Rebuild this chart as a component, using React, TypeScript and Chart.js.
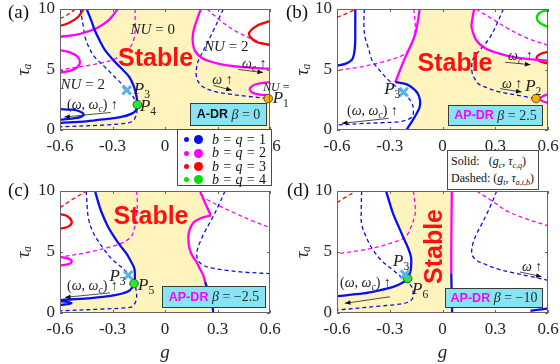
import React, { useEffect, useRef } from 'react';
import { Chart, registerables } from 'chart.js';
Chart.register(...registerables);

type Pt = [number, number];

const SERIF = '"Liberation Serif", "Times New Roman", serif';
const SANS = '"Liberation Sans", Arial, sans-serif';

const BLUE = '#0a10e8';
const MAG = '#ff00ff';
const RED = '#ff0000';
const GREEN = '#00e000';
const YELLOW = '#fff4bd';
const CROSS = '#55b4e6';
const ORANGE = '#f5ad00';
const DOTGREEN = '#22ee22';
const BOXFILL = '#86e4f5';

const gRange: Pt = [-0.6, 0.6];
const tauRange: Pt = [0, 10];
const xTickValues = [-0.6, -0.3, 0, 0.3, 0.6];
const xTickLabels = ['-0.6', '-0.3', '0', '0.3', '0.6'];
const yTickValues = [0, 5, 10];
const yTickLabels = ['0', '5', '10'];

// ---------- panel (a): A-DR, beta = 0 ----------
const aBlueSolid: Pt[] = [[-0.448,10],[-0.42,9.0],[-0.4,8.2],[-0.37,7.3],[-0.343,6.6],[-0.3,5.85],[-0.257,5.2],[-0.205,4.4],[-0.178,3.6],[-0.163,2.8],[-0.158,2.1],[-0.165,1.65],[-0.19,1.35],[-0.25,1.08],[-0.35,0.88],[-0.45,0.72],[-0.6,0.58]];
const aBlueLoop: Pt[] = [[-0.6,1.72],[-0.53,1.68],[-0.49,1.55],[-0.465,1.3],[-0.48,1.08],[-0.53,0.94],[-0.6,0.86]];
const aBlueDash: Pt[] = [[-0.484,10],[-0.465,8.4],[-0.457,7.65],[-0.43,6.7],[-0.4,6.0],[-0.35,5.3],[-0.305,4.65],[-0.26,4.0],[-0.229,3.55],[-0.19,2.9],[-0.17,2.4],[-0.162,1.8],[-0.162,1.37],[-0.175,0.9],[-0.2,0.62],[-0.26,0.5],[-0.343,0.41],[-0.6,0.27]];
const aBlueDashR: Pt[] = [[0.333,10],[0.276,8.2],[0.219,6.56],[0.19,5.7],[0.181,5.19],[0.178,4.6],[0.19,4.0],[0.219,3.55],[0.28,3.2],[0.352,3.0],[0.467,2.79],[0.59,2.6]];
const aMagSolidR: Pt[] = [[0.205,10],[0.18,9.0],[0.163,8.2],[0.158,7.4],[0.171,6.56],[0.219,5.88],[0.314,5.45],[0.447,5.2],[0.6,5.05]];
const aMagBumpL: Pt[] = [[-0.6,6.6],[-0.54,6.4],[-0.5,6.05],[-0.486,5.6],[-0.5,5.2],[-0.54,4.9],[-0.6,4.75]];
const aMagTopL: Pt[] = [[-0.6,7.7],[-0.52,7.85],[-0.45,8.1],[-0.38,8.5],[-0.32,9.1],[-0.27,10]];
const aMagBumpR: Pt[] = [[0.6,3.96],[0.52,3.78],[0.485,3.42],[0.5,3.08],[0.54,2.93],[0.6,2.87]];
const aMagDashL: Pt[] = [[-0.171,10],[-0.171,8.2],[-0.18,7.4],[-0.2,6.83],[-0.24,6.3],[-0.286,5.88],[-0.36,5.55],[-0.438,5.33],[-0.6,4.97]];
const aMagDashR: Pt[] = [[0.24,10],[0.32,9.0],[0.4,8.2],[0.5,7.5],[0.6,6.95]];
const aRedSolid: Pt[] = [[-0.6,8.6],[-0.55,8.85],[-0.5,9.3],[-0.465,10]];
const aRedLoopR: Pt[] = [[0.6,9.0],[0.53,8.65],[0.48,7.95],[0.52,7.3],[0.6,7.05]];
const aRedDash: Pt[] = [[-0.6,9.2],[-0.56,9.5],[-0.51,10]];
const aP1: Pt[] = [[0.59,2.6]];
const aP3: Pt[] = [[-0.219,3.28]];
const aP4: Pt[] = [[-0.158,2.1]];

// ---------- panel (b): AP-DR, beta = 2.5 ----------
const bBlueSolidL: Pt[] = [[-0.496,10],[-0.496,8.5],[-0.497,7.1],[-0.503,6.3],[-0.515,5.8],[-0.553,5.47],[-0.6,5.33]];
const bMagSolidL: Pt[] = [[-0.13,10],[-0.14,9.0],[-0.155,7.92],[-0.18,7.0],[-0.212,6.0],[-0.24,5.0],[-0.268,3.96]];
const bBlueSolidB: Pt[] = [[-0.268,3.96],[-0.24,3.9],[-0.2,3.75],[-0.166,3.42],[-0.14,3.0],[-0.128,2.46],[-0.13,1.9],[-0.147,1.37],[-0.17,0.8],[-0.205,0]];
const bMagSolidR: Pt[] = [[0.18,10],[0.168,9.0],[0.166,8.47],[0.194,7.38],[0.251,6.69],[0.365,6.15],[0.479,5.88],[0.6,5.74]];
const bMagBump: Pt[] = [[0.6,2.95],[0.57,2.78],[0.553,2.58],[0.57,2.38],[0.6,2.25]];
const bRedLoop: Pt[] = [[0.6,6.45],[0.56,6.3],[0.535,6.0],[0.55,5.7],[0.6,5.5]];
const bGreenLoop: Pt[] = [[0.6,9.9],[0.56,9.75],[0.537,9.35],[0.55,8.9],[0.6,8.5]];
const bRedDash: Pt[] = [[-0.6,9.3],[-0.55,9.6],[-0.49,10]];
const bBlueDashL: Pt[] = [[-0.445,10],[-0.447,8.6],[-0.44,7.65],[-0.42,6.7],[-0.4,5.74],[-0.35,4.8],[-0.306,4.1],[-0.25,3.4],[-0.2,2.75],[-0.173,2.19],[-0.165,1.6],[-0.173,1.09],[-0.21,0.8],[-0.249,0.68],[-0.35,0.6],[-0.439,0.55],[-0.6,0.41]];
const bBlueDashR: Pt[] = [[0.346,10],[0.31,8.8],[0.27,7.65],[0.23,6.9],[0.194,6.29],[0.172,5.8],[0.166,5.2],[0.17,4.65],[0.185,4.2],[0.203,3.83],[0.26,3.45],[0.327,3.14],[0.459,2.79],[0.53,2.6]];
const bMagDashL: Pt[] = [[-0.164,10],[-0.155,8.74],[-0.16,7.8],[-0.173,7.1],[-0.2,6.5],[-0.23,6.15],[-0.344,5.6],[-0.477,5.19],[-0.6,4.92]];
const bMagDashR: Pt[] = [[0.19,10],[0.28,9.2],[0.37,8.4],[0.48,7.6],[0.6,7.0]];
const bP2: Pt[] = [[0.532,2.6]];
const bP3: Pt[] = [[-0.221,3.14]];

// ---------- panel (c): AP-DR, beta = -2.5 ----------
const cBlueSolid: Pt[] = [[-0.4,10],[-0.38,9.0],[-0.362,8.24],[-0.33,7.2],[-0.295,6.34],[-0.26,5.6],[-0.219,4.85],[-0.19,4.1],[-0.175,3.63],[-0.172,3.0],[-0.177,2.41],[-0.2,1.87],[-0.24,1.62],[-0.286,1.46],[-0.36,1.32],[-0.438,1.2],[-0.6,1.06]];
const cBlueLoop: Pt[] = [[-0.6,0.98],[-0.56,0.92],[-0.535,0.82],[-0.555,0.72],[-0.6,0.66]];
const cBlueDash: Pt[] = [[-0.45,10],[-0.445,8.8],[-0.438,7.8],[-0.42,6.9],[-0.39,6.07],[-0.35,5.25],[-0.314,4.58],[-0.27,4.0],[-0.229,3.5],[-0.19,2.8],[-0.171,2.28],[-0.162,1.33],[-0.17,0.85],[-0.19,0.51],[-0.25,0.4],[-0.343,0.33],[-0.6,0.18]];
const cRedLoop: Pt[] = [[-0.6,8.1],[-0.56,7.95],[-0.533,7.5],[-0.55,7.1],[-0.6,6.9]];
const cMagBump: Pt[] = [[-0.6,4.58],[-0.56,4.5],[-0.533,4.25],[-0.55,4.0],[-0.6,3.9]];
const cRedDash: Pt[] = [[-0.6,8.64],[-0.53,9.3],[-0.448,10]];
const cMagDashL: Pt[] = [[-0.162,10],[-0.158,9.0],[-0.162,8.24],[-0.172,7.2],[-0.19,6.34],[-0.23,5.85],[-0.286,5.53],[-0.438,4.98],[-0.6,4.58]];
const cMagSolidTop: Pt[] = [[0.2,10],[0.23,9.0],[0.262,8.0]];
const cMagSolidMid: Pt[] = [[0.262,8.0],[0.2,7.75],[0.162,7.4],[0.14,6.8],[0.133,6.2],[0.14,5.26],[0.16,4.6],[0.181,4.17],[0.2,3.6],[0.219,3.09],[0.229,2.54]];
const cBlueSolidR: Pt[] = [[0.229,2.54],[0.245,1.9],[0.257,1.46],[0.27,0.7],[0.276,0]];
const cBlueDashR: Pt[] = [[0.343,10],[0.305,8.78],[0.257,7.42],[0.225,6.6],[0.2,5.8],[0.185,5.2],[0.181,4.72],[0.19,4.3],[0.219,3.9],[0.28,3.65],[0.352,3.5],[0.45,3.35],[0.6,3.23]];
const cMagDashR: Pt[] = [[0.238,9.3],[0.3,8.85],[0.39,8.24],[0.5,7.55],[0.6,7.0]];
const cP3: Pt[] = [[-0.21,3.09]];
const cP5: Pt[] = [[-0.177,2.41]];

// ---------- panel (d): AP-DR, beta = -10 ----------
const dBlueSolid: Pt[] = [[-0.321,10],[-0.3,9.0],[-0.28,8.1],[-0.25,7.1],[-0.223,6.2],[-0.195,5.3],[-0.179,4.58],[-0.178,4.0],[-0.181,3.5],[-0.19,3.1],[-0.198,2.82],[-0.23,2.45],[-0.28,2.14],[-0.36,1.85],[-0.45,1.6],[-0.6,1.38]];
const dBlueDash: Pt[] = [[-0.46,10],[-0.462,8.5],[-0.46,7.29],[-0.43,6.1],[-0.393,5.12],[-0.34,4.2],[-0.28,3.5],[-0.22,2.75],[-0.175,2.14],[-0.166,1.46],[-0.175,1.1],[-0.204,0.84],[-0.27,0.68],[-0.355,0.57],[-0.6,0.24]];
const dMagSolid: Pt[] = [[0.053,10],[0.051,7.0],[0.05,5.0],[0.05,3.23]];
const dBlueSolidV: Pt[] = [[0.05,3.23],[0.052,1.5],[0.055,0]];
const dBlueSolidBR: Pt[] = [[0.5,0.18],[0.55,0.27],[0.6,0.38]];
const dBlueDashR: Pt[] = [[0.308,10],[0.28,9.0],[0.251,8.1],[0.22,7.2],[0.194,6.48],[0.175,5.8],[0.166,5.12],[0.17,4.7],[0.194,4.31],[0.25,3.95],[0.308,3.63],[0.4,3.3],[0.5,3.0],[0.6,2.68]];
const dMagDashR: Pt[] = [[0.194,10],[0.28,9.2],[0.365,8.37],[0.48,7.7],[0.6,7.15]];
const dMagDashL: Pt[] = [[-0.166,10],[-0.156,8.8],[-0.156,8.1],[-0.18,7.0],[-0.213,6.2],[-0.29,5.75],[-0.374,5.39],[-0.48,5.1],[-0.6,4.85]];
const dRedDash: Pt[] = [[-0.6,9.05],[-0.55,9.5],[-0.49,10]];
const dP3: Pt[] = [[-0.213,3.15]];
const dP6: Pt[] = [[-0.198,2.82]];

// legend content
const legendQ = ['1', '2', '3', '4'];
const legendColors = [BLUE, MAG, RED, GREEN];

// ---------- helpers ----------
const toXY = (a: Pt[]) => a.map(([x, y]) => ({ x, y }));
const seg = (a: Pt[]): Pt[] => [a[0], ...a, a[a.length - 1]];
const rev = (a: Pt[]): Pt[] => [...a].reverse();
const corner = (p: Pt): Pt[] => [p, p];

const solid = (a: Pt[], c: string) => ({ data: toXY(a), borderColor: c, borderWidth: 2.3, tension: 0.35, pointRadius: 0, fill: false, order: 4 });
const dashed = (a: Pt[], c: string) => ({ data: toXY(a), borderColor: c, borderWidth: 1.3, borderDash: [4, 3], tension: 0.35, pointRadius: 0, fill: false, order: 5 });
const region = (a: Pt[], c: string, order = 10) => ({ data: toXY(a), borderColor: 'rgba(0,0,0,0)', borderWidth: 0, backgroundColor: c, fill: 'shape', tension: 0.35, pointRadius: 0, order });
const dot = (a: Pt[], c: string) => ({ data: toXY(a), showLine: false, pointRadius: 4.3, pointBackgroundColor: c, pointBorderColor: '#333', pointBorderWidth: 0.8, order: 1, clip: false });
const cross = (a: Pt[]) => ({ data: toXY(a), showLine: false, pointStyle: 'crossRot', pointRadius: 6, pointBorderColor: CROSS, pointBorderWidth: 3, order: 0, clip: false });

type Seg = { t: string; it?: boolean; b?: boolean; sans?: boolean; sub?: boolean; color?: string; size?: number };
type Note =
  | { kind: 'text'; at: Pt; segs: Seg[]; size: number; align?: 'left' | 'center' | 'right'; color?: string; rot?: boolean }
  | { kind: 'arrow'; from: Pt; to: Pt }
  | { kind: 'box'; a: Pt; b: Pt; segs: Seg[]; size: number };

const it = (t: string): Seg => ({ t, it: true });
const rm = (t: string): Seg => ({ t });
const P = (n: string): Seg[] => [it('P'), { t: n, sub: true }];
const NU = (n: string): Seg[] => [it('NU'), rm(' = ' + n)];
const WW: Seg[] = [rm('('), it('ω'), rm(', '), it('ω'), { t: 'c', it: true, sub: true }, rm(') '), rm('↑')];
const W: Seg[] = [it('ω'), rm(' ↑')];
const WC: Seg[] = [it('ω'), { t: 'c', it: true, sub: true }, rm(' ↑')];
const STABLE: Seg[] = [{ t: 'Stable', b: true, sans: true }];
const boxText = (name: string, nameColor: string, beta: string): Seg[] => [
  { t: name, b: true, sans: true, size: 12.5, color: nameColor },
  rm(' '), it('β'), rm(' = ' + beta),
];

function fontFor(s: Seg, size: number) {
  const sz = s.size ?? (s.sub ? size * 0.68 : size);
  return `${s.it ? 'italic ' : ''}${s.b ? 'bold ' : ''}${sz}px ${s.sans ? SANS : SERIF}`;
}

function drawRich(ctx: CanvasRenderingContext2D, segs: Seg[], x: number, y: number, size: number, align: string, color: string) {
  let total = 0;
  const widths = segs.map((s) => { ctx.font = fontFor(s, size); const w = ctx.measureText(s.t).width; total += w; return w; });
  let cx = align === 'left' ? x : align === 'center' ? x - total / 2 : x - total;
  ctx.textBaseline = 'middle';
  ctx.textAlign = 'left';
  segs.forEach((s, i) => {
    ctx.font = fontFor(s, size);
    ctx.fillStyle = s.color ?? color;
    ctx.fillText(s.t, cx, y + (s.sub ? size * 0.3 : 0));
    cx += widths[i];
  });
}

const framePlugin = {
  id: 'frame',
  afterDatasetsDraw(chart: any) {
    const { ctx, chartArea: a, scales } = chart;
    ctx.save();
    ctx.strokeStyle = '#666';
    ctx.lineWidth = 1;
    ctx.strokeRect(Math.round(a.left) + 0.5, Math.round(a.top) + 0.5, Math.round(a.right - a.left) - 1, Math.round(a.bottom - a.top) - 1);
    ctx.beginPath();
    xTickValues.forEach((v) => {
      const x = Math.round(scales.x.getPixelForValue(v)) + 0.5;
      ctx.moveTo(x, a.bottom); ctx.lineTo(x, a.bottom - 3);
      ctx.moveTo(x, a.top); ctx.lineTo(x, a.top + 3);
    });
    yTickValues.forEach((v) => {
      const y = Math.round(scales.y.getPixelForValue(v)) + 0.5;
      ctx.moveTo(a.left, y); ctx.lineTo(a.left + 3, y);
      ctx.moveTo(a.right, y); ctx.lineTo(a.right - 3, y);
    });
    ctx.stroke();
    ctx.restore();
  },
};

function notesPlugin(notes: Note[]) {
  return {
    id: 'notes',
    afterDatasetsDraw(chart: any) {
      const { ctx, scales } = chart;
      const X = (v: number) => scales.x.getPixelForValue(v);
      const Y = (v: number) => scales.y.getPixelForValue(v);
      ctx.save();
      for (const n of notes) {
        if (n.kind === 'box') {
          const x1 = Math.round(X(n.a[0])) + 0.5, x2 = Math.round(X(n.b[0])) + 0.5;
          const y1 = Math.round(Y(n.b[1])) + 0.5, y2 = Math.round(Y(n.a[1])) + 0.5;
          ctx.fillStyle = BOXFILL;
          ctx.fillRect(x1, y1, x2 - x1, y2 - y1);
          ctx.strokeStyle = '#3a3a3a';
          ctx.lineWidth = 1;
          ctx.strokeRect(x1, y1, x2 - x1, y2 - y1);
          drawRich(ctx, n.segs, (x1 + x2) / 2, (y1 + y2) / 2 + 0.5, n.size, 'center', '#2a2a2a');
        } else if (n.kind === 'arrow') {
          const x1 = X(n.from[0]), y1 = Y(n.from[1]), x2 = X(n.to[0]), y2 = Y(n.to[1]);
          const ang = Math.atan2(y2 - y1, x2 - x1);
          ctx.strokeStyle = '#222';
          ctx.fillStyle = '#111';
          ctx.lineWidth = 0.8;
          ctx.beginPath(); ctx.moveTo(x1, y1); ctx.lineTo(x2, y2); ctx.stroke();
          ctx.beginPath();
          ctx.moveTo(x2, y2);
          ctx.lineTo(x2 - 6 * Math.cos(ang - 0.4), y2 - 6 * Math.sin(ang - 0.4));
          ctx.lineTo(x2 - 6 * Math.cos(ang + 0.4), y2 - 6 * Math.sin(ang + 0.4));
          ctx.closePath(); ctx.fill();
        } else {
          const px = X(n.at[0]), py = Y(n.at[1]);
          if (n.rot) {
            ctx.save(); ctx.translate(px, py); ctx.rotate(-Math.PI / 2);
            drawRich(ctx, n.segs, 0, 0, n.size, n.align ?? 'center', n.color ?? '#222');
            ctx.restore();
          } else {
            drawRich(ctx, n.segs, px, py, n.size, n.align ?? 'center', n.color ?? '#222');
          }
        }
      }
      ctx.restore();
    },
  };
}

// ---------- panels ----------
const panelA = {
  key: 'a', left: 0, top: 0, w: 290, h: 182, padTop: 8, padRight: 20, yAxisW: 60, xAxisH: 52, xTitle: false, yTitlePad: 13,
  datasets: [
    region([...seg(aMagSolidR), ...corner([gRange[1], tauRange[0]]), ...corner([gRange[0], tauRange[0]]), ...seg(rev(aBlueSolid))], YELLOW),
    region(aMagBumpR, '#ffffff', 9),
    dashed(aBlueDash, BLUE), dashed(aBlueDashR, BLUE), dashed(aMagDashL, MAG), dashed(aMagDashR, MAG), dashed(aRedDash, RED),
    solid(aBlueSolid, BLUE), solid(aBlueLoop, BLUE), solid(aMagSolidR, MAG), solid(aMagBumpL, MAG), solid(aMagTopL, MAG),
    solid(aMagBumpR, MAG), solid(aRedSolid, RED), solid(aRedLoopR, RED),
    dot(aP1, ORANGE), dot(aP4, DOTGREEN), cross(aP3),
  ],
  notes: [
    { kind: 'box', a: [0.145, 0.4], b: [0.575, 2.2], segs: boxText('A-DR', '#111', '0'), size: 14 },
    { kind: 'arrow', from: [-0.31, 1.45], to: [-0.575, 1.07] },
    { kind: 'arrow', from: [0.276, 3.69], to: [0.381, 3.28] },
    { kind: 'arrow', from: [0.42, 5.0], to: [0.56, 4.75] },
    { kind: 'text', at: [-0.054, 5.86], segs: STABLE, size: 25, color: '#ff1010' },
    { kind: 'text', at: [-0.07, 8.25], segs: NU('0'), size: 15 },
    { kind: 'text', at: [-0.47, 3.75], segs: NU('2'), size: 15 },
    { kind: 'text', at: [0.35, 6.85], segs: NU('2'), size: 15 },
    { kind: 'text', at: [0.56, 3.45], segs: NU('2'), size: 12, align: 'left' },
    { kind: 'text', at: [0.615, 2.6], segs: P('1'), size: 17, align: 'left' },
    { kind: 'text', at: [-0.178, 3.35], segs: P('3'), size: 17, align: 'left' },
    { kind: 'text', at: [-0.143, 1.95], segs: P('4'), size: 17, align: 'left' },
    { kind: 'text', at: [-0.56, 2.05], segs: WW, size: 14, align: 'left' },
    { kind: 'text', at: [0.27, 4.1], segs: W, size: 14, align: 'left' },
    { kind: 'text', at: [0.44, 5.45], segs: WC, size: 14, align: 'left' },
  ] as Note[],
};

const panelB = {
  key: 'b', left: 280, top: 0, w: 290, h: 182, padTop: 8, padRight: 22, yAxisW: 57, xAxisH: 52, xTitle: false, yTitlePad: 12,
  datasets: [
    region([...seg(bMagSolidR), ...corner([gRange[1], tauRange[0]]), ...seg(rev(bBlueSolidB)), ...seg(rev(bMagSolidL))], YELLOW),
    region(bMagBump, '#ffffff', 9), region(bRedLoop, '#ffffff', 9),
    dashed(bBlueDashL, BLUE), dashed(bBlueDashR, BLUE), dashed(bMagDashL, MAG), dashed(bMagDashR, MAG), dashed(bRedDash, RED),
    solid(bBlueSolidL, BLUE), solid(bBlueSolidB, BLUE), solid(bMagSolidL, MAG), solid(bMagSolidR, MAG), solid(bMagBump, MAG),
    solid(bRedLoop, RED), solid(bGreenLoop, GREEN),
    dot(bP2, ORANGE), cross(bP3),
  ],
  notes: [
    { kind: 'box', a: [0.033, 0.41], b: [0.564, 2.05], segs: boxText('AP-DR', MAG, '2.5'), size: 14 },
    { kind: 'arrow', from: [-0.306, 0.96], to: [-0.572, 0.55] },
    { kind: 'arrow', from: [0.355, 5.6], to: [0.5, 5.4] },
    { kind: 'arrow', from: [0.327, 3.42], to: [0.45, 3.14] },
    { kind: 'text', at: [0.071, 5.45], segs: STABLE, size: 25, color: '#ff1010' },
    { kind: 'text', at: [-0.24, 3.32], segs: P('3'), size: 17, align: 'right' },
    { kind: 'text', at: [-0.543, 1.55], segs: WW, size: 14, align: 'left' },
    { kind: 'text', at: [0.373, 6.05], segs: WC, size: 14, align: 'left' },
    { kind: 'text', at: [0.338, 3.8], segs: W, size: 14, align: 'left' },
    { kind: 'text', at: [0.47, 3.6], segs: P('2'), size: 17, align: 'left' },
  ] as Note[],
};

const panelC = {
  key: 'c', left: 0, top: 182, w: 290, h: 182, padTop: 8, padRight: 20, yAxisW: 60, xAxisH: 51, xTitle: true, yTitlePad: 13,
  datasets: [
    region([...seg(cMagSolidTop), ...seg(cMagSolidMid), ...seg(cBlueSolidR), ...corner([gRange[0], tauRange[0]]), ...seg(rev(cBlueSolid))], YELLOW),
    dashed(cBlueDash, BLUE), dashed(cBlueDashR, BLUE), dashed(cMagDashL, MAG), dashed(cMagDashR, MAG), dashed(cRedDash, RED),
    solid(cBlueSolid, BLUE), solid(cBlueLoop, BLUE), solid(cBlueSolidR, BLUE), solid(cMagSolidTop, MAG), solid(cMagSolidMid, MAG),
    solid(cMagBump, MAG), solid(cRedLoop, RED),
    dot(cP5, DOTGREEN), cross(cP3),
  ],
  notes: [
    { kind: 'box', a: [-0.019, 0.46], b: [0.571, 2.2], segs: boxText('AP-DR', MAG, '−2.5'), size: 14 },
    { kind: 'arrow', from: [-0.314, 1.65], to: [-0.571, 1.28] },
    { kind: 'text', at: [-0.08, 7.85], segs: STABLE, size: 25, color: '#ff1010' },
    { kind: 'text', at: [-0.56, 2.15], segs: WW, size: 14, align: 'left' },
    { kind: 'text', at: [-0.225, 3.0], segs: P('3'), size: 17, align: 'right' },
    { kind: 'text', at: [-0.154, 2.25], segs: P('5'), size: 17, align: 'left' },
  ] as Note[],
};

const panelD = {
  key: 'd', left: 280, top: 182, w: 290, h: 182, padTop: 8, padRight: 22, yAxisW: 57, xAxisH: 51, xTitle: true, yTitlePad: 12,
  datasets: [
    region([...seg(dMagSolid), ...seg(dBlueSolidV), ...corner([gRange[0], tauRange[0]]), ...seg(rev(dBlueSolid))], YELLOW),
    dashed(dBlueDash, BLUE), dashed(dBlueDashR, BLUE), dashed(dMagDashL, MAG), dashed(dMagDashR, MAG), dashed(dRedDash, RED),
    solid(dBlueSolid, BLUE), solid(dBlueSolidV, BLUE), solid(dBlueSolidBR, BLUE), solid(dMagSolid, MAG),
    dot(dP6, DOTGREEN), cross(dP3),
  ],
  notes: [
    { kind: 'box', a: [0.014, 0.51], b: [0.564, 2.09], segs: boxText('AP-DR', MAG, '−10'), size: 14 },
    { kind: 'arrow', from: [-0.299, 1.33], to: [-0.555, 0.79] },
    { kind: 'arrow', from: [0.441, 3.36], to: [0.564, 2.98] },
    { kind: 'text', at: [-0.043, 5.45], segs: STABLE, size: 25, color: '#ff1010', rot: true },
    { kind: 'text', at: [-0.235, 4.2], segs: P('3'), size: 17 },
    { kind: 'text', at: [-0.173, 1.9], segs: P('6'), size: 17, align: 'left' },
    { kind: 'text', at: [-0.583, 2.4], segs: WW, size: 14, align: 'left' },
    { kind: 'text', at: [0.452, 3.75], segs: W, size: 14, align: 'left' },
  ] as Note[],
};

const panels = [panelA, panelB, panelC, panelD];

function makeConfig(p: any): any {
  return {
    type: 'line',
    data: { datasets: p.datasets },
    options: {
      responsive: false,
      animation: false,
      devicePixelRatio: 1,
      events: [],
      layout: { padding: { top: p.padTop, right: p.padRight, left: 0, bottom: 0 } },
      plugins: { legend: { display: false }, tooltip: { enabled: false }, title: { display: false } },
      scales: {
        x: {
          type: 'linear', min: gRange[0], max: gRange[1],
          afterBuildTicks: (s: any) => { s.ticks = xTickValues.map((v) => ({ value: v })); },
          afterFit: (s: any) => { s.height = p.xAxisH; s.paddingLeft = 0; s.paddingRight = 0; },
          grid: { display: false, drawTicks: false },
          border: { display: false },
          ticks: { autoSkip: false, maxRotation: 0, padding: 6, color: '#262626', font: { family: SERIF, size: 17 }, callback: (_v: any, i: number) => xTickLabels[i] },
          title: { display: p.xTitle, text: 'g', color: '#262626', font: { family: SERIF, size: 19, style: 'italic' }, padding: { top: 0, bottom: 0 } },
        },
        y: {
          type: 'linear', min: tauRange[0], max: tauRange[1],
          afterBuildTicks: (s: any) => { s.ticks = yTickValues.map((v) => ({ value: v })); },
          afterFit: (s: any) => { s.width = p.yAxisW; s.paddingTop = 0; s.paddingBottom = 0; },
          grid: { display: false, drawTicks: false },
          border: { display: false },
          ticks: { autoSkip: false, padding: 5, color: '#262626', font: { family: SERIF, size: 17 }, callback: (_v: any, i: number) => yTickLabels[i] },
          title: { display: true, text: 'τₐ', color: '#262626', font: { family: SERIF, size: 19, style: 'italic' }, padding: { top: p.yTitlePad, bottom: 0 } },
        },
      },
    },
    plugins: [framePlugin, notesPlugin(p.notes)],
  };
}

function PanelChart({ p }: { p: any }) {
  const ref = useRef<HTMLCanvasElement>(null);
  useEffect(() => {
    const chart = new Chart(ref.current as HTMLCanvasElement, makeConfig(p));
    return () => chart.destroy();
  }, []);
  return <canvas ref={ref} width={p.w} height={p.h} style={{ position: 'absolute', left: p.left, top: p.top, width: p.w, height: p.h }} />;
}

const panelLabels: { t: string; left: number; top: number }[] = [
  { t: '(a)', left: 8, top: 2 },
  { t: '(b)', left: 286, top: 2 },
  { t: '(c)', left: 8, top: 180 },
  { t: '(d)', left: 287, top: 180 },
];

export default function App() {
  return (
    <div style={{ position: 'absolute', left: 0, top: 0, width: 560, height: 364, overflow: 'hidden', background: '#fff' }}>
      {panels.map((p) => <PanelChart key={p.key} p={p} />)}
      {panelLabels.map((l) => (
        <div key={l.t} style={{ position: 'absolute', left: l.left, top: l.top, font: `19px ${SERIF}`, lineHeight: '19px', color: '#111' }}>{l.t}</div>
      ))}
      <div style={{ position: 'absolute', left: 177, top: 129, width: 95, height: 57, boxSizing: 'border-box', border: '1px solid #4a4a4a', background: '#fff' }}>
        {legendQ.map((q, i) => (
          <div key={q} style={{ position: 'absolute', left: 0, top: 3 + i * 13.4, height: 13.4, width: 93 }}>
            <span style={{ position: 'absolute', left: 6, top: 4.2, width: 5, height: 5, borderRadius: 3, background: legendColors[i] }} />
            <span style={{ position: 'absolute', left: 16, top: 2.2, width: 9, height: 9, borderRadius: 5, background: legendColors[i] }} />
            <span style={{ position: 'absolute', left: 34, top: -1, font: `italic 14px ${SERIF}`, lineHeight: '15px', whiteSpace: 'nowrap', color: '#111' }}>
              b = q = <span style={{ fontStyle: 'normal' }}>{q}</span>
            </span>
          </div>
        ))}
      </div>
      <div style={{ position: 'absolute', left: 447, top: 150, width: 92, height: 40, boxSizing: 'border-box', border: '1px solid #4a4a4a', background: '#fff', font: `12px ${SERIF}`, color: '#111', whiteSpace: 'nowrap' }}>
        <div style={{ position: 'absolute', left: 3, top: 3, lineHeight: '14px' }}>
          Solid:&nbsp;&nbsp;&nbsp;(<i>g</i><sub style={{ fontSize: 8 }}><i>c</i></sub>, <i>τ</i><sub style={{ fontSize: 8 }}><i>c</i>,<i>q</i></sub>)
        </div>
        <div style={{ position: 'absolute', left: 3, top: 20, lineHeight: '14px' }}>
          Dashed: (<i>g</i><sub style={{ fontSize: 8 }}><i>t</i></sub>, <i>τ</i><sub style={{ fontSize: 8 }}><i>a</i>,<i>t</i>,<i>b</i></sub>)
        </div>
      </div>
    </div>
  );
}
